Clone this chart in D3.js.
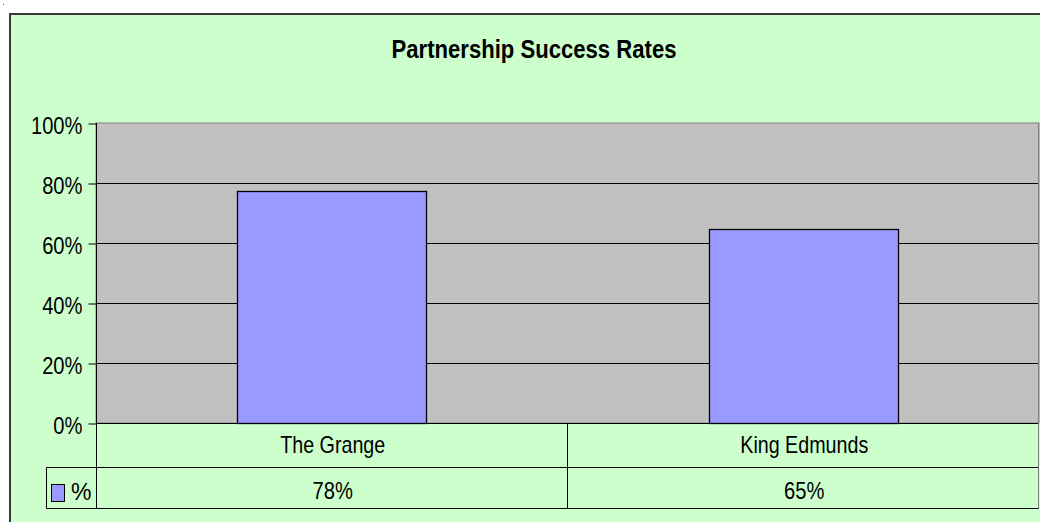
<!DOCTYPE html>
<html>
<head>
<meta charset="utf-8">
<script src="https://cdn.jsdelivr.net/npm/d3@7/dist/d3.min.js"></script>
<style>
  html, body { margin: 0; padding: 0; background: #fff; }
  svg { display: block; }
  text { font-family: "Liberation Sans", Arial, sans-serif; fill: #000; }
</style>
</head>
<body>
<div id="chart"></div>
<script>
'use strict';

// chart values
var categories = ['The Grange', 'King Edmunds'];
var seriesName = '%';
var values = [0.775, 0.648];
var valueLabels = ['78%', '65%'];
var yTicks = [0, 0.2, 0.4, 0.6, 0.8, 1];
var title = 'Partnership Success Rates';

var W = 1040, H = 522;
var plot = {left: 96, right: 1039, top: 123, bottom: 423};
var rows = {cat: 467, val: 508, keyLeft: 46};

var svg = d3.select('#chart').append('svg')
	.attr('width', W)
	.attr('height', H);

// squeeze text horizontally the way the original renderer does
function squeeze(sel, k) {
	sel.each(function() {
		var w = this.getComputedTextLength();
		d3.select(this).attr('textLength', w * k).attr('lengthAdjust', 'spacingAndGlyphs');
	});
}

// chart area
svg.append('rect')
	.attr('x', 10).attr('y', 14)
	.attr('width', W + 20).attr('height', H + 20)
	.style('fill', '#ccffcc')
	.style('stroke', '#3a3a3a')
	.style('stroke-width', 2);

svg.append('rect')
	.attr('x', 3).attr('y', 4).attr('width', 1).attr('height', 1)
	.style('fill', '#555');

var x = d3.scaleBand()
	.domain(categories)
	.range([plot.left, plot.right])
	.padding(0);

var y = d3.scaleLinear()
	.domain([0, 1])
	.range([plot.bottom, plot.top]);

// plot area
svg.append('rect')
	.attr('x', plot.left).attr('y', plot.top)
	.attr('width', plot.right - plot.left).attr('height', plot.bottom - plot.top)
	.style('fill', '#c0c0c0')
	.style('stroke', '#808080')
	.style('stroke-width', 1);

// gridlines
svg.append('g')
	.attr('class', 'grid')
	.selectAll('line')
	.data(yTicks.filter(function(d) { return d > 0 && d < 1; }))
	.enter()
	.append('line')
	.attr('x1', plot.left).attr('x2', plot.right)
	.attr('y1', function(d) { return Math.round(y(d)) + 0.5; })
	.attr('y2', function(d) { return Math.round(y(d)) + 0.5; })
	.style('stroke', '#000')
	.style('stroke-width', 1);

// bars
var bw = x.step() * 0.4;
svg.append('g')
	.attr('class', 'bars')
	.selectAll('rect')
	.data(values)
	.enter()
	.append('rect')
	.attr('x', function(d, i) { return Math.round(x(categories[i]) + (x.step() - bw) / 2) + 0.5; })
	.attr('y', function(d) { return Math.round(y(d)) + 0.5; })
	.attr('width', Math.round(bw))
	.attr('height', function(d) { return Math.round(y(0)) - Math.round(y(d)); })
	.style('fill', '#9999ff')
	.style('stroke', '#000')
	.style('stroke-width', 1.3);

// y axis
var yAxis = d3.axisLeft(y)
	.tickValues(yTicks)
	.tickFormat(d3.format('.0%'))
	.tickSize(8)
	.tickPadding(6);

var ya = svg.append('g')
	.attr('class', 'axis y')
	.attr('transform', 'translate(' + (plot.left + 0.5) + ',0.5)')
	.call(yAxis);
ya.select('.domain').remove();
ya.selectAll('.tick line').style('stroke', '#000');
ya.selectAll('.tick text')
	.style('font-size', '24px')
	.style('font-family', '"Liberation Sans", Arial, sans-serif')
	.attr('dy', '0.4em')
	.call(squeeze, 0.84);

// data table lines
var table = svg.append('g').attr('class', 'table')
	.style('stroke', '#000').style('stroke-width', 1);

table.append('line')
	.attr('x1', plot.left + 0.5).attr('x2', plot.left + 0.5)
	.attr('y1', plot.top).attr('y2', rows.val + 0.5);
table.append('line')
	.attr('x1', plot.left).attr('x2', plot.right)
	.attr('y1', plot.bottom + 0.5).attr('y2', plot.bottom + 0.5);
table.append('line')
	.attr('x1', rows.keyLeft + 0.5).attr('x2', plot.right)
	.attr('y1', rows.cat + 0.5).attr('y2', rows.cat + 0.5);
table.append('line')
	.attr('x1', rows.keyLeft + 0.5).attr('x2', plot.right)
	.attr('y1', rows.val + 0.5).attr('y2', rows.val + 0.5);
table.append('line')
	.attr('x1', rows.keyLeft + 0.5).attr('x2', rows.keyLeft + 0.5)
	.attr('y1', rows.cat + 0.5).attr('y2', rows.val + 0.5);
table.selectAll('line.sep')
	.data(categories)
	.enter()
	.append('line')
	.attr('class', 'sep')
	.attr('x1', function(d) { return Math.round(x(d) + x.step()) - 0.5; })
	.attr('x2', function(d) { return Math.round(x(d) + x.step()) - 0.5; })
	.attr('y1', function(d, i) { return i === categories.length - 1 ? plot.top : plot.bottom; })
	.attr('y2', rows.val + 0.5)
	.style('stroke', function(d, i) { return i === categories.length - 1 ? '#808080' : '#000'; });

// category row
svg.append('g')
	.selectAll('text')
	.data(categories)
	.enter()
	.append('text')
	.attr('x', function(d) { return x(d) + x.step() / 2 + 1; })
	.attr('y', 453)
	.attr('text-anchor', 'middle')
	.style('font-size', '24px')
	.text(function(d) { return d; })
	.call(squeeze, 0.82);

// value row
svg.append('g')
	.selectAll('text')
	.data(valueLabels)
	.enter()
	.append('text')
	.attr('x', function(d, i) { return x(categories[i]) + x.step() / 2 + 1; })
	.attr('y', 499)
	.attr('text-anchor', 'middle')
	.style('font-size', '24px')
	.text(function(d) { return d; })
	.call(squeeze, 0.84);

// legend key in table
svg.append('rect')
	.attr('x', 51.5).attr('y', 484.5)
	.attr('width', 13).attr('height', 17)
	.style('fill', '#9999ff')
	.style('stroke', '#000')
	.style('stroke-width', 1);
svg.append('text')
	.attr('x', 71).attr('y', 500)
	.style('font-size', '24px')
	.text(seriesName)
	.call(squeeze, 0.96);

// title
svg.append('text')
	.attr('x', 534)
	.attr('y', 58)
	.attr('text-anchor', 'middle')
	.style('font-size', '26px')
	.style('font-weight', 'bold')
	.text(title)
	.call(squeeze, 0.85);
</script>
</body>
</html>
